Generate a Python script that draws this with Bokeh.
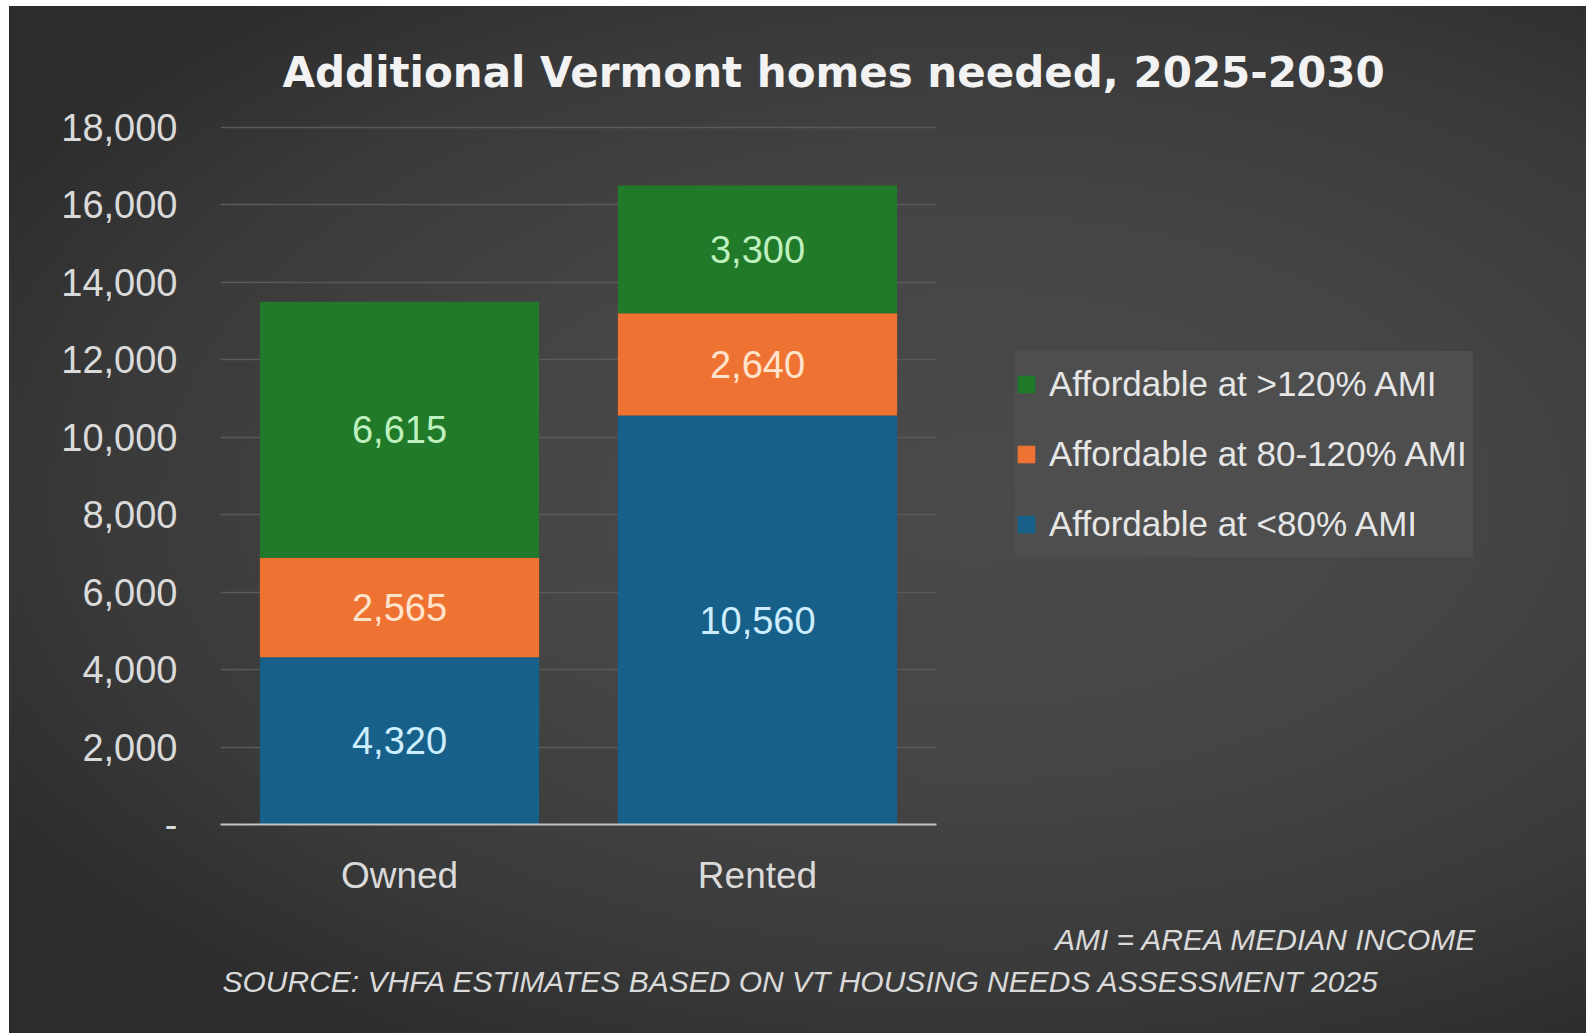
from bokeh.plotting import figure
from bokeh.models import (ColumnDataSource, FactorRange, Range1d, Legend,
                          LegendItem, FixedTicker, Title, Spacer)
from bokeh.layouts import column, row
from bokeh.core.properties import value
from bokeh.embed import file_html
from bokeh.resources import INLINE

# ---------------- data ----------------
categories = ["Owned", "Rented"]
below80 = [4320, 10560]
mid80_120 = [2565, 2640]
above120 = [6615, 3300]
series_keys = ["below80", "mid80_120", "above120"]
series_names = ["Affordable at <80% AMI", "Affordable at 80-120% AMI", "Affordable at >120% AMI"]
y_ticks = [0, 2000, 4000, 6000, 8000, 10000, 12000, 14000, 16000, 18000]
y_tick_labels = ["-", "2,000", "4,000", "6,000", "8,000", "10,000", "12,000", "14,000", "16,000", "18,000"]
title_text = "Additional Vermont homes needed, 2025-2030"
note_ami = "AMI = AREA MEDIAN INCOME"
note_source = "SOURCE: VHFA ESTIMATES BASED ON VT HOUSING NEEDS ASSESSMENT 2025"

# ---------------- style ----------------
BG_CSS = ("radial-gradient(ellipse 62% 62% at 52% 48%, "
          "#4a4a4a 0%, #464646 40%, #3a3a3a 75%, #2c2c2c 100%)")
bar_colors = ["#17608a", "#ee7332", "#217a29"]
label_colors = ["#cdeeff", "#ffe3cc", "#bff0bf"]
TXT = "#dadada"
FONT = "Liberation Sans"

src = ColumnDataSource(dict(cat=categories, below80=below80,
                            mid80_120=mid80_120, above120=above120))

p = figure(x_range=FactorRange(*categories), y_range=Range1d(0, 18100),
           frame_width=716, frame_height=701, output_backend="svg", toolbar_location=None,
           min_border_left=211, min_border_right=649, min_border_top=117,
           min_border_bottom=209, background_fill_color=None, border_fill_color=None,
           styles={"background": BG_CSS})
p.outline_line_color = None

rs = p.vbar_stack(series_keys, x="cat", width=0.78, color=bar_colors,
                  line_color=None, source=src)

# segment value labels
lx, ly, lt, lc = [], [], [], []
for ci, cat in enumerate(categories):
    base = 0
    for si, arr in enumerate([below80, mid80_120, above120]):
        v = arr[ci]
        lx.append(cat)
        ly.append(base + v / 2)
        lt.append(f"{v:,}")
        lc.append(label_colors[si])
        base += v
lab_src = ColumnDataSource(dict(x=lx, y=ly, t=lt, c=lc))
p.text(x="x", y="y", text="t", text_color="c", source=lab_src,
       text_align="center", text_baseline="middle",
       text_font=value(FONT), text_font_size="38px")

# axes
p.yaxis.ticker = FixedTicker(ticks=y_ticks)
p.yaxis.major_label_overrides = {t: l for t, l in zip(y_ticks, y_tick_labels)}
p.yaxis.axis_line_color = None
p.yaxis.major_tick_line_color = None
p.yaxis.minor_tick_line_color = None
p.yaxis.major_label_standoff = 37
p.yaxis.major_label_text_font = FONT
p.yaxis.major_label_text_font_size = "38px"
p.yaxis.major_label_text_color = TXT

p.xaxis.axis_line_color = "#c4c4c4"
p.xaxis.axis_line_width = 2
p.xaxis.major_tick_line_color = None
p.xaxis.minor_tick_line_color = None
p.xaxis.major_label_standoff = 24
p.xaxis.major_label_text_font = FONT
p.xaxis.major_label_text_font_size = "37px"
p.xaxis.major_label_text_color = TXT

p.xgrid.grid_line_color = None
p.ygrid.ticker = FixedTicker(ticks=y_ticks)
p.ygrid.grid_line_color = "#5a5a5a"
p.ygrid.grid_line_width = 1.5

# legend (right panel)
items = [LegendItem(label=series_names[i], renderers=[rs[i]]) for i in [2, 1, 0]]
legend = Legend(items=items, location=(79, 267), orientation="vertical",
                background_fill_color="#4e4e4e", background_fill_alpha=1.0,
                border_line_color=None, padding=6, margin=0, spacing=4,
                label_height=66, label_width=424, glyph_height=22, glyph_width=22,
                label_standoff=12, label_text_font=FONT,
                label_text_font_size="35px", label_text_color="#e6e6e6")
p.add_layout(legend, "right")

# title (above)
p.title.text = title_text
p.title.align = "left"
p.title.offset = 62
p.title.standoff = 54
p.title.text_font = "DejaVu Sans"
p.title.text_font_style = "bold"
p.title.text_font_size = "42px"
p.title.text_color = "#f2f2f2"

# notes (below)
p.add_layout(Title(text=" ", text_font_size="1px", standoff=15), "below")
p.add_layout(Title(text=note_ami, align="right", offset=-541, standoff=8,
                   text_font=FONT, text_font_style="italic",
                   text_font_size="30px", text_color=TXT), "below")
p.add_layout(Title(text=note_source, align="left", offset=2, standoff=6,
                   text_font=FONT, text_font_style="italic",
                   text_font_size="30px", text_color=TXT), "below")

layout = column(Spacer(height=6), row(Spacer(width=9), p, spacing=0), spacing=0)
open("out.html", "w").write(file_html(layout, INLINE))
